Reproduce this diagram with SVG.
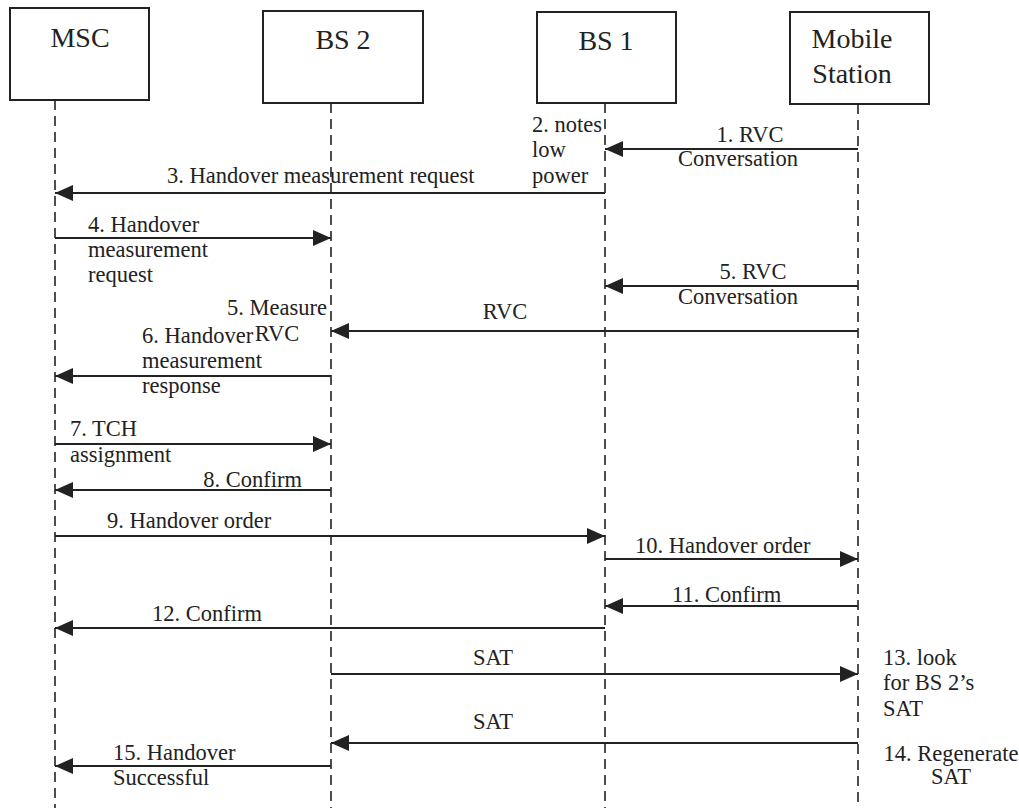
<svg xmlns="http://www.w3.org/2000/svg" width="1019" height="808" viewBox="0 0 1019 808">
  <style>
    .box { fill: #fff; stroke: #222; stroke-width: 2; }
    .life { stroke: #222; stroke-width: 1.6; stroke-dasharray: 10 6; fill: none; }
    .msg { stroke: #222; stroke-width: 1.8; fill: none; marker-end: url(#head); }
    text { font-family: 'Liberation Serif', 'Times New Roman', Times, serif; fill: #222; }
    .title { font-size: 28px; text-anchor: middle; }
    .lbl { font-size: 22.5px; }
    .mid { text-anchor: middle; }
    .end { text-anchor: end; }
  </style>
  <defs>
    <marker id="head" markerUnits="userSpaceOnUse" markerWidth="19" markerHeight="17" refX="18" refY="8" orient="auto">
      <path d="M0,0 L18,8 L0,16 z" fill="#222"/>
    </marker>
  </defs>
  <rect width="1019" height="808" fill="#fff"/>

  <!-- participants with their lifelines -->
  <g id="msc">
    <line class="life" x1="55" y1="100" x2="55" y2="808"/>
    <rect class="box" x="10" y="8" width="139" height="92"/>
    <text class="title" x="80" y="47">MSC</text>
  </g>
  <g id="bs2">
    <line class="life" x1="331" y1="103" x2="331" y2="808"/>
    <rect class="box" x="263" y="11" width="160" height="92"/>
    <text class="title" x="343" y="49">BS 2</text>
  </g>
  <g id="bs1">
    <line class="life" x1="605" y1="103" x2="605" y2="808"/>
    <rect class="box" x="537" y="12" width="139" height="91"/>
    <text class="title" x="606" y="50">BS 1</text>
  </g>
  <g id="mobile-station">
    <line class="life" x1="858" y1="104" x2="858" y2="808"/>
    <rect class="box" x="790" y="12" width="139" height="92"/>
    <text class="title" x="852" y="48">Mobile</text>
    <text class="title" x="852" y="83">Station</text>
  </g>

  <!-- messages -->
  <g id="connectors">
    <line class="msg" x1="858" y1="149" x2="605" y2="149"/>
    <line class="msg" x1="605" y1="193" x2="55" y2="193"/>
    <line class="msg" x1="55" y1="238" x2="331" y2="238"/>
    <line class="msg" x1="858" y1="286" x2="605" y2="286"/>
    <line class="msg" x1="858" y1="331" x2="331" y2="331"/>
    <line class="msg" x1="331" y1="376" x2="55" y2="376"/>
    <line class="msg" x1="55" y1="444" x2="331" y2="444"/>
    <line class="msg" x1="331" y1="490" x2="55" y2="490"/>
    <line class="msg" x1="55" y1="536" x2="605" y2="536"/>
    <line class="msg" x1="605" y1="559" x2="858" y2="559"/>
    <line class="msg" x1="858" y1="606" x2="605" y2="606"/>
    <line class="msg" x1="605" y1="628" x2="55" y2="628"/>
    <line class="msg" x1="331" y1="674" x2="858" y2="674"/>
    <line class="msg" x1="858" y1="743" x2="331" y2="743"/>
    <line class="msg" x1="331" y1="766" x2="55" y2="766"/>
  </g>

  <!-- message and step labels -->
  <g id="labels">
    <text class="lbl mid" x="750" y="142">1. RVC</text>
    <text class="lbl mid" x="738" y="166">Conversation</text>

    <text class="lbl" x="532" y="132">2. notes</text>
    <text class="lbl" x="532" y="157">low</text>
    <text class="lbl" x="532" y="183">power</text>

    <text class="lbl" x="167" y="183">3. Handover measurement request</text>

    <text class="lbl" x="88" y="232">4. Handover</text>
    <text class="lbl" x="88" y="257">measurement</text>
    <text class="lbl" x="88" y="282">request</text>

    <text class="lbl mid" x="753" y="279">5. RVC</text>
    <text class="lbl mid" x="738" y="304">Conversation</text>

    <text class="lbl mid" x="505" y="319">RVC</text>

    <text class="lbl mid" x="277" y="315">5. Measure</text>
    <text class="lbl mid" x="277" y="341">RVC</text>

    <text class="lbl" x="142" y="343">6. Handover</text>
    <text class="lbl" x="142" y="368">measurement</text>
    <text class="lbl" x="142" y="393">response</text>

    <text class="lbl" x="70" y="436">7. TCH</text>
    <text class="lbl" x="70" y="462">assignment</text>

    <text class="lbl end" x="302" y="487">8. Confirm</text>

    <text class="lbl" x="107" y="528">9. Handover order</text>

    <text class="lbl" x="635" y="553">10. Handover order</text>

    <text class="lbl" x="672" y="602">11. Confirm</text>

    <text class="lbl" x="152" y="621">12. Confirm</text>

    <text class="lbl end" x="513" y="665">SAT</text>

    <text class="lbl" x="883" y="665">13. look</text>
    <text class="lbl" x="883" y="690">for BS 2’s</text>
    <text class="lbl" x="883" y="716">SAT</text>

    <text class="lbl end" x="513" y="729">SAT</text>

    <text class="lbl mid" x="951" y="761">14. Regenerate</text>
    <text class="lbl mid" x="951" y="784">SAT</text>

    <text class="lbl" x="113" y="760">15. Handover</text>
    <text class="lbl" x="113" y="785">Successful</text>
  </g>
</svg>
